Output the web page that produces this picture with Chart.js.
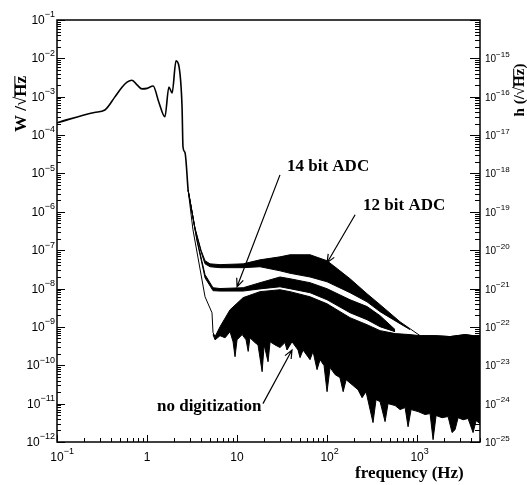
<!DOCTYPE html>
<html>
<head>
<meta charset="utf-8">
<script src="https://cdn.jsdelivr.net/npm/chart.js"></script>
<style>
  html, body { margin: 0; padding: 0; background: #fff; }
  #wrap { width: 527px; height: 485px; }
</style>
</head>
<body>
<div id="wrap"><canvas id="psd"></canvas></div>
<script>
// [frequency (Hz), W/sqrt(Hz)]
// low frequency part, the three curves coincide here
const lowFreqCurve = [
  [0.1, 2.1e-4], [0.26, 3.9e-4], [0.34, 4.5e-4], [0.44, 9.9e-4], [0.53, 1.8e-3],
  [0.6, 2.4e-3], [0.68, 2.7e-3], [0.78, 2.0e-3], [0.88, 1.6e-3], [1.0, 1.65e-3],
  [1.17, 1.9e-3], [1.35, 7.3e-4], [1.58, 3.0e-4], [1.75, 1.8e-3], [1.9, 1.26e-3],
  [2.1, 8.6e-3], [2.27, 6.0e-3], [2.45, 5.4e-4], [2.51, 4.9e-5], [2.64, 3.5e-5],
  [2.86, 3.7e-6]
];

// 12 bit ADC band (upper / lower edge of the noisy trace)
const adc12Upper = [
  [2.86, 3.7e-6], [3.41, 3.8e-7], [3.98, 1.0e-7], [4.41, 5.3e-8], [5.01, 4.4e-8],
  [6.47, 4.2e-8], [11.7, 4.4e-8], [18.0, 5.6e-8], [30.0, 6.7e-8], [38.8, 7.6e-8],
  [64.7, 7.6e-8], [100, 5.3e-8], [139, 2.9e-8], [180, 1.8e-8], [278, 7.3e-9],
  [388, 3.8e-9], [647, 1.36e-9], [1080, 5.9e-10], [1585, 5.9e-10], [2326, 5.6e-10],
  [3415, 6.3e-10], [5012, 5.6e-10]
];
const adc12Lower = [
  [2.86, 3.7e-6], [3.41, 3.6e-7], [3.98, 9.1e-8], [4.41, 4.4e-8], [5.01, 3.7e-8],
  [6.47, 3.5e-8], [11.7, 3.5e-8], [18.0, 3.7e-8], [30.0, 2.9e-8], [38.8, 2.5e-8],
  [64.7, 2.0e-8], [100, 1.5e-8], [180, 7.8e-9], [278, 4.5e-9], [388, 2.5e-9],
  [647, 1.21e-9], [836, 8.5e-10]
];

// 14 bit ADC band
const adc14Upper = [
  [2.86, 3.7e-6], [3.59, 1.87e-7], [4.41, 2.3e-8], [5.41, 1.05e-8], [6.47, 1.0e-8],
  [11.7, 1.05e-8], [18.0, 1.42e-8], [30.0, 2.0e-8], [38.8, 1.8e-8], [64.7, 1.42e-8],
  [100, 9.9e-9], [180, 5.1e-9], [278, 3.4e-9], [388, 1.96e-9], [570, 8.5e-10]
];
const adc14Lower = [
  [2.86, 3.7e-6], [3.59, 1.76e-7], [4.41, 1.9e-8], [5.41, 8.8e-9], [6.47, 8.6e-9],
  [11.7, 8.6e-9], [18.0, 9.8e-9], [30.0, 1.11e-8], [38.8, 9.9e-9], [64.7, 7.8e-9],
  [100, 5.1e-9], [180, 2.34e-9], [278, 1.54e-9], [388, 1.01e-9], [570, 7.5e-10]
];

// no digitization: top edge, and bottom edge with the deep dips
const noDigUpper = [
  [2.86, 3.7e-6], [3.24, 3.4e-7], [4.41, 6.1e-9], [5.27, 2.34e-9], [5.41, 7.1e-10],
  [5.70, 5.6e-10], [6.47, 1.01e-9], [8.36, 2.8e-9], [11.7, 5.8e-9], [18.0, 8.3e-9],
  [30.0, 9.3e-9], [38.8, 8.3e-9], [64.7, 6.1e-9], [100, 4.0e-9], [180, 1.74e-9],
  [278, 1.14e-9], [388, 8.0e-10], [570, 6.7e-10], [836, 6.3e-10], [1080, 5.9e-10],
  [1585, 5.9e-10], [2326, 5.6e-10], [3415, 6.3e-10], [5012, 5.6e-10]
];
const noDigLower = [
  [5.41, 6.3e-10], [5.70, 4.6e-10], [6.47, 5.9e-10], [7.36, 5.2e-10], [8.36, 7.5e-10],
  [9.03, 4.1e-10], [9.50, 1.67e-10], [10.0, 4.6e-10], [11.4, 6.3e-10], [12.6, 4.6e-10],
  [13.3, 2.3e-10], [13.9, 5.2e-10], [15.8, 3.9e-10], [17.1, 3.4e-10], [19.0, 6.8e-11],
  [20.0, 3.4e-10], [22.1, 1.24e-10], [23.3, 4.1e-10], [26.4, 3.4e-10], [30.0, 2.9e-10],
  [34.1, 3.9e-10], [35.9, 2.5e-10], [40.8, 4.1e-10], [47.6, 2.5e-10], [50.1, 1.58e-10],
  [54.1, 2.5e-10], [64.7, 1.4e-10], [69.9, 2.3e-10], [77.4, 7.7e-11], [83.6, 1.4e-10],
  [92.6, 9.8e-11], [100, 2.05e-11], [108, 8.7e-11], [123, 5.7e-11], [139, 4.8e-11],
  [151, 2.05e-11], [163, 4.2e-11], [190, 3.1e-11], [221, 2.3e-11], [245, 1.43e-11],
  [271, 2.05e-11], [324, 3.2e-12], [350, 1.27e-11], [388, 1.13e-11], [441, 3.4e-12],
  [476, 1.0e-11], [570, 8.9e-12], [647, 7.0e-12], [736, 7.9e-12], [794, 2.5e-12],
  [858, 7.0e-12], [1026, 6.2e-12], [1227, 5.2e-12], [1394, 5.5e-12], [1506, 1.15e-12],
  [1626, 4.9e-12], [1896, 4.3e-12], [2210, 4.6e-12], [2448, 1.76e-12], [2643, 2.1e-12],
  [2856, 4.3e-12], [3245, 3.8e-12], [3687, 4.1e-12], [4190, 1.76e-12], [4525, 3.6e-12],
  [5012, 3.0e-12]
];

// tick labels
const xTickValues = [0.1, 1, 10, 100, 1000];
const xTickBases = ['10', '1', '10', '10', '10'];
const xTickExps = ['\u22121', '', '', '2', '3'];
const wTickValues = [1e-1, 1e-2, 1e-3, 1e-4, 1e-5, 1e-6, 1e-7, 1e-8, 1e-9, 1e-10, 1e-11, 1e-12];
const wTickExps = ['\u22121', '\u22122', '\u22123', '\u22124', '\u22125', '\u22126', '\u22127', '\u22128', '\u22129', '\u221210', '\u221211', '\u221212'];
const hTickValues = [1e-15, 1e-16, 1e-17, 1e-18, 1e-19, 1e-20, 1e-21, 1e-22, 1e-23, 1e-24, 1e-25];
const hTickExps = ['\u221215', '\u221216', '\u221217', '\u221218', '\u221219', '\u221220', '\u221221', '\u221222', '\u221223', '\u221224', '\u221225'];

// annotations: text anchor and arrow tail/tip in data coordinates
const annotations = [
  { text: '14 bit ADC', at: [35.9, 1.17e-5], tail: [30.0, 9.2e-6], tip: [10.0, 1.11e-8] },
  { text: '12 bit ADC', at: [251, 1.13e-6], tail: [205, 8.4e-7], tip: [100, 4.7e-8] },
  { text: 'no digitization', at: [1.29, 6.6e-12], tail: [19.4, 1.0e-11], tip: [40.8, 2.5e-10] }
];

const SANS = '"Liberation Sans", Arial, sans-serif';
const SERIF = '"Liberation Serif", "Times New Roman", serif';

// 1..9 x 10^n marks inside a log scale's range
function logMarks(scale) {
  const out = [];
  const e0 = Math.floor(Math.log10(scale.min) + 1e-9);
  const e1 = Math.ceil(Math.log10(scale.max) - 1e-9);
  for (let e = e0; e <= e1; e++) {
    for (let m = 1; m <= 9; m++) {
      const v = m * Math.pow(10, e);
      if (v < scale.min * 0.999 || v > scale.max * 1.001) continue;
      out.push({ value: v, major: m === 1 });
    }
  }
  return out;
}

function drawPower(ctx, base, exp, x, y, size, align) {
  const supSize = Math.round(size * 0.78);
  ctx.font = size + 'px ' + SANS;
  const wb = ctx.measureText(base).width;
  ctx.font = supSize + 'px ' + SANS;
  const we = exp ? ctx.measureText(exp).width : 0;
  let x0 = x;
  if (align === 'right') x0 = x - wb - we;
  else if (align === 'center') x0 = x - wb / 2;
  ctx.textAlign = 'left';
  ctx.textBaseline = 'alphabetic';
  ctx.font = size + 'px ' + SANS;
  ctx.fillText(base, x0, y);
  if (exp) {
    ctx.font = supSize + 'px ' + SANS;
    ctx.fillText(exp, x0 + wb, y - size * 0.55);
  }
}

function drawArrow(ctx, x1, y1, x2, y2) {
  ctx.beginPath();
  ctx.moveTo(x1, y1);
  ctx.lineTo(x2, y2);
  const ang = Math.atan2(y2 - y1, x2 - x1);
  const h = 9;
  ctx.moveTo(x2 - h * Math.cos(ang - 0.4), y2 - h * Math.sin(ang - 0.4));
  ctx.lineTo(x2, y2);
  ctx.lineTo(x2 - h * Math.cos(ang + 0.4), y2 - h * Math.sin(ang + 0.4));
  ctx.stroke();
}

// axis frame, inward ticks, labels, titles and annotations
const decorPlugin = {
  id: 'decor',
  afterDraw(chart) {
    const { ctx, chartArea: a } = chart;
    const { x, y, y2 } = chart.scales;
    ctx.save();
    ctx.strokeStyle = '#000';
    ctx.fillStyle = '#000';

    ctx.lineWidth = 1;
    ctx.beginPath();
    logMarks(x).forEach(t => {
      const px = Math.round(x.getPixelForValue(t.value)) + 0.5;
      const len = t.major ? 7 : 4;
      ctx.moveTo(px, a.bottom);
      ctx.lineTo(px, a.bottom - len);
    });
    logMarks(y).forEach(t => {
      const py = Math.round(y.getPixelForValue(t.value)) + 0.5;
      const len = t.major ? 8 : 4;
      ctx.moveTo(a.left, py);
      ctx.lineTo(a.left + len, py);
    });
    logMarks(y2).forEach(t => {
      const py = Math.round(y2.getPixelForValue(t.value)) + 0.5;
      const len = t.major ? 10 : 5;
      ctx.moveTo(a.right, py);
      ctx.lineTo(a.right - len, py);
    });
    ctx.stroke();

    ctx.lineWidth = 1.5;
    ctx.strokeRect(a.left, a.top, a.right - a.left, a.bottom - a.top);

    // tick labels
    xTickValues.forEach((v, i) => {
      drawPower(ctx, xTickBases[i], xTickExps[i], x.getPixelForValue(v), a.bottom + 19, 12, 'center');
    });
    wTickValues.forEach((v, i) => {
      drawPower(ctx, '10', wTickExps[i], a.left - 2, y.getPixelForValue(v) + 4, 12, 'right');
    });
    hTickValues.forEach((v, i) => {
      drawPower(ctx, '10', hTickExps[i], a.right + 5, y2.getPixelForValue(v) + 4, 10, 'left');
    });

    // axis titles
    ctx.font = 'bold 17px ' + SERIF;
    ctx.textBaseline = 'alphabetic';
    ctx.textAlign = 'left';
    ctx.fillText('frequency (Hz)', 355, a.bottom + 36);

    function radicalTitle(pre, post, cx, cy, size) {
      ctx.save();
      ctx.translate(cx, cy);
      ctx.rotate(-Math.PI / 2);
      ctx.font = 'bold ' + size + 'px ' + SERIF;
      const full = pre + '\u221AHz' + post;
      const w = ctx.measureText(full).width;
      const wPre = ctx.measureText(pre + '\u221A').width;
      const wHz = ctx.measureText('Hz').width;
      ctx.textAlign = 'left';
      ctx.textBaseline = 'middle';
      ctx.fillText(full, -w / 2, 0);
      ctx.lineWidth = 1;
      ctx.beginPath();
      ctx.moveTo(-w / 2 + wPre - 1, -size * 0.42);
      ctx.lineTo(-w / 2 + wPre + wHz, -size * 0.42);
      ctx.stroke();
      ctx.restore();
    }
    radicalTitle('W /', '', 22, 104, 17);
    radicalTitle('h (/', ')', 520, 90, 15);

    // annotations
    ctx.lineWidth = 1.2;
    annotations.forEach(an => {
      ctx.font = 'bold 17px ' + SERIF;
      ctx.textAlign = 'left';
      ctx.textBaseline = 'alphabetic';
      ctx.fillText(an.text, x.getPixelForValue(an.at[0]), y.getPixelForValue(an.at[1]));
      drawArrow(ctx,
        x.getPixelForValue(an.tail[0]), y.getPixelForValue(an.tail[1]),
        x.getPixelForValue(an.tip[0]), y.getPixelForValue(an.tip[1]));
    });
    ctx.restore();
  }
};

function edge(data, fill) {
  return {
    data: data,
    borderColor: '#000',
    backgroundColor: '#000',
    borderWidth: 1,
    pointRadius: 0,
    tension: 0,
    fill: fill
  };
}

new Chart(document.getElementById('psd'), {
  type: 'line',
  data: {
    datasets: [
      {
        data: lowFreqCurve,
        borderColor: '#000',
        borderWidth: 1.6,
        pointRadius: 0,
        cubicInterpolationMode: 'monotone',
        fill: false
      },
      edge(adc12Upper, false),
      edge(adc12Lower, '-1'),
      edge(adc14Upper, false),
      edge(adc14Lower, '-1'),
      edge(noDigUpper, false),
      edge(noDigLower, '-1')
    ]
  },
  options: {
    responsive: true,
    maintainAspectRatio: false,
    animation: false,
    layout: { padding: { left: 57, right: 47, top: 20, bottom: 43 } },
    plugins: { legend: { display: false }, tooltip: { enabled: false } },
    scales: {
      x: { type: 'logarithmic', min: 0.1, max: 5000, display: false },
      y: { type: 'logarithmic', min: 1e-12, max: 1e-1, display: false },
      y2: { type: 'logarithmic', position: 'right', min: 1e-25, max: 1e-14, display: false }
    }
  },
  plugins: [decorPlugin]
});
</script>
</body>
</html>
